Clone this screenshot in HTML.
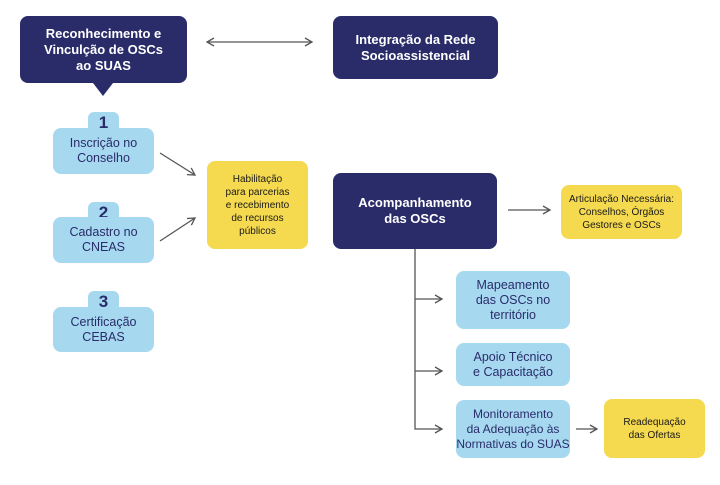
<!DOCTYPE html>
<html><head><meta charset="utf-8"><style>
body{margin:0;width:720px;height:485px;background:#fff;position:relative;font-family:"Liberation Sans",sans-serif;overflow:hidden}
.b{position:absolute;display:flex;align-items:center;justify-content:center;text-align:center;box-sizing:border-box}
.d{background:#2a2c6a;color:#fff;font-weight:bold;font-size:13px;line-height:16px;border-radius:8px}
.l{background:#a6d8f0;color:#2a2c6a;font-size:12.5px;line-height:15px;border-radius:8px}
.y{background:#f5d94e;color:#1a1a1a;font-size:10px;line-height:13px;border-radius:8px}
.t{position:absolute;background:#a6d8f0;color:#2a2c6a;font-weight:bold;font-size:17px;text-align:center;border-radius:6px 6px 0 0;width:31px;height:22px;line-height:22px}
</style></head><body>
<svg width="720" height="485" style="position:absolute;left:0;top:0">
<defs><marker id="a" markerWidth="10" markerHeight="10" refX="8" refY="5" orient="auto-start-reverse" markerUnits="userSpaceOnUse"><path d="M1,1 L8,5 L1,9" fill="none" stroke="#555" stroke-width="1.3"/></marker></defs>
<g stroke="#555" stroke-width="1.3" fill="none">
<line x1="207" y1="42" x2="312" y2="42" marker-start="url(#a)" marker-end="url(#a)"/>
<line x1="160" y1="153" x2="195" y2="175" marker-end="url(#a)"/>
<line x1="160" y1="241" x2="195" y2="218" marker-end="url(#a)"/>
<line x1="508" y1="210" x2="550" y2="210" marker-end="url(#a)"/>
<polyline points="415,249 415,429 442,429" marker-end="url(#a)"/>
<line x1="415" y1="299" x2="442" y2="299" marker-end="url(#a)"/>
<line x1="415" y1="371" x2="442" y2="371" marker-end="url(#a)"/>
<line x1="576" y1="429" x2="597" y2="429" marker-end="url(#a)"/>
</g>
<polygon points="93,83 113,83 103,96" fill="#2a2c6a"/>
</svg>
<div class="b d" style="left:20px;top:16px;width:167px;height:67px">Reconhecimento e<br>Vinculção de OSCs<br>ao SUAS</div>
<div class="b d" style="left:333px;top:16px;width:165px;height:63px">Integração da Rede<br>Socioassistencial</div>
<div class="t" style="left:88px;top:112px">1</div>
<div class="b l" style="left:53px;top:128px;width:101px;height:46px">Inscrição no<br>Conselho</div>
<div class="t" style="left:88px;top:202px">2</div>
<div class="b l" style="left:53px;top:217px;width:101px;height:46px">Cadastro no<br>CNEAS</div>
<div class="t" style="left:88px;top:291px">3</div>
<div class="b l" style="left:53px;top:307px;width:101px;height:45px">Certificação<br>CEBAS</div>
<div class="b y" style="left:207px;top:161px;width:101px;height:88px">Habilitação<br>para parcerias<br>e recebimento<br>de recursos<br>públicos</div>
<div class="b d" style="left:333px;top:173px;width:164px;height:76px">Acompanhamento<br>das OSCs</div>
<div class="b y" style="left:561px;top:185px;width:121px;height:54px">Articulação Necessária:<br>Conselhos, Órgãos<br>Gestores e OSCs</div>
<div class="b l" style="left:456px;top:271px;width:114px;height:58px">Mapeamento<br>das OSCs no<br>território</div>
<div class="b l" style="left:456px;top:343px;width:114px;height:43px">Apoio Técnico<br>e Capacitação</div>
<div class="b l" style="left:456px;top:400px;width:114px;height:58px;font-size:12px">Monitoramento<br>da Adequação às<br>Normativas do SUAS</div>
<div class="b y" style="left:604px;top:399px;width:101px;height:59px">Readequação<br>das Ofertas</div>
</body></html>
